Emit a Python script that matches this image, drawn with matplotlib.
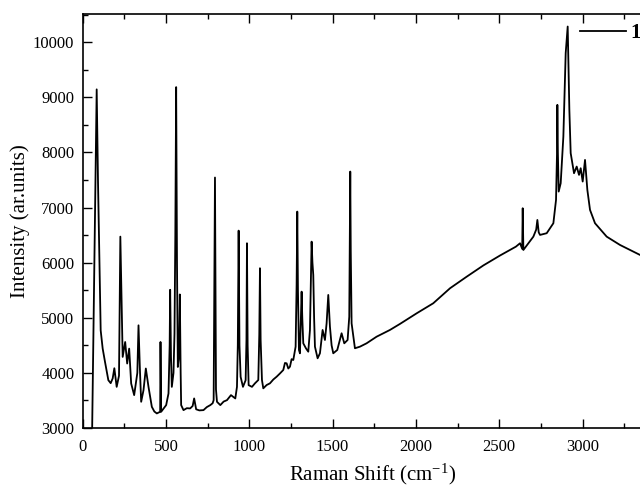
import numpy as np
import matplotlib
matplotlib.use('Agg')
import matplotlib.pyplot as plt
from matplotlib.ticker import MultipleLocator

plt.rcParams['font.family'] = ['Liberation Serif', 'DejaVu Serif']
plt.rcParams['mathtext.fontset'] = 'stix'

# Raman spectrum (cm-1, intensity)
shift = [56, 84, 92, 108, 120, 134, 154, 168, 180, 190, 204, 218, 226, 240, 255,
         267, 279, 291, 309, 328, 335, 343, 351, 365, 379, 395, 415, 430, 445, 465,
         467, 471, 501, 515, 522, 525, 530, 535, 545, 551, 556, 561, 566, 571, 578,
         583, 588, 591, 605, 625, 645, 660, 669, 681, 700, 725, 745, 766, 780, 786,
         794, 800, 806, 826, 846, 866, 890, 916, 926, 931, 936, 941, 948, 962, 978,
         983, 986, 990, 996, 1016, 1034, 1054, 1060, 1064, 1068, 1076, 1084, 1104, 1124, 1144,
         1164, 1184, 1204, 1214, 1224, 1234, 1244, 1254, 1264, 1278, 1284, 1288, 1292, 1298, 1304,
         1310, 1314, 1318, 1324, 1340, 1354, 1364, 1370, 1374, 1379, 1384, 1389, 1394, 1410, 1424,
         1440, 1454, 1464, 1474, 1484, 1494, 1504, 1528, 1554, 1570, 1590, 1600, 1603, 1606, 1609,
         1614, 1634, 1664, 1704, 1764, 1844, 1905, 2005, 2104, 2205, 2305, 2405, 2505, 2600, 2625,
         2638, 2641, 2645, 2705, 2722, 2729, 2737, 2745, 2785, 2825, 2841, 2847, 2849, 2852, 2857,
         2869, 2885, 2899, 2911, 2921, 2929, 2949, 2965, 2979, 2989, 3001, 3015, 3029, 3045, 3075,
         3145, 3225, 3305, 3345, 3400]
intensity = [2800, 9143, 7454, 4772, 4441, 4199, 3868, 3814, 3900, 4085, 3747, 3950, 6472, 4290, 4561,
             4170, 4441, 3808, 3597, 4000, 4863, 4100, 3476, 3687, 4080, 3747, 3385, 3300, 3265, 3295,
             4561, 3295, 3416, 3627, 4500, 5508, 4300, 3747, 4000, 4712, 6500, 9184, 6000, 4108, 4300,
             5423, 4000, 3416, 3325, 3360, 3356, 3400, 3537, 3340, 3320, 3325, 3380, 3416, 3450, 3506,
             7544, 3700, 3476, 3416, 3480, 3506, 3597, 3537, 3747, 4500, 6581, 4500, 3928, 3747, 3868,
             4600, 6352, 4500, 3778, 3747, 3811, 3871, 4700, 5899, 4600, 3871, 3720, 3780, 3811, 3880,
             3931, 3990, 4053, 4180, 4174, 4080, 4113, 4250, 4234, 4476, 5600, 6926, 5500, 4416, 4355,
             5000, 5474, 5000, 4537, 4446, 4385, 4779, 5800, 6381, 6000, 5777, 5000, 4476, 4265, 4356,
             4779, 4597, 4900, 5414, 4839, 4500, 4356, 4416, 4719, 4537, 4597, 5020, 6300, 7652, 6200,
             4900, 4447, 4476, 4537, 4657, 4779, 4890, 5082, 5263, 5536, 5746, 5950, 6130, 6290, 6352,
             6250, 6987, 6230, 6472, 6600, 6775, 6550, 6503, 6534, 6715, 7138, 8000, 8862, 8000, 7289,
             7441, 8287, 9801, 10283, 8772, 7986, 7622, 7743, 7592, 7713, 7471, 7864, 7320, 6957, 6715,
             6472, 6321, 6200, 6140, 6100]

fig = plt.figure(figsize=(6.4, 4.92), dpi=100)
# the original is cropped on the right, so the axes end at the figure edge
ax = fig.add_axes([0.1292, 0.130, 1 - 0.1292, 0.8415])
ax.plot(shift, intensity, color='black', lw=1.3, label='1')

ax.set_xlim(0, 3345)
ax.set_ylim(3000, 10510)
ax.spines['right'].set_visible(False)
ax.xaxis.set_major_locator(MultipleLocator(500))
ax.xaxis.set_minor_locator(MultipleLocator(250))
ax.yaxis.set_major_locator(MultipleLocator(1000))
ax.yaxis.set_minor_locator(MultipleLocator(500))
ax.tick_params(which='both', direction='in', top=True, right=False, width=1.0, labelsize=12)
ax.tick_params(which='major', length=6.5)
ax.tick_params(which='minor', length=3.5)
ax.tick_params(axis='x', pad=8)
ax.tick_params(axis='y', pad=6)
for sp in ax.spines.values():
    sp.set_linewidth(1.2)

ax.set_xlabel('Raman Shift (cm$^{\\mathregular{-1}}$)', fontsize=15)
ax.set_ylabel('Intensity (ar.units)', fontsize=15)
ax.xaxis.set_label_coords(0.52, -0.08)
ax.yaxis.set_label_coords(-0.095, 0.5)

leg = fig.legend(loc='center left', bbox_to_anchor=(580 / 640, 1 - 33 / 492),
                 frameon=False, handlelength=2.2, handletextpad=0.2,
                 borderpad=0, borderaxespad=0, prop={'weight': 'bold', 'size': 15})

fig.savefig('out.png', dpi=100)
